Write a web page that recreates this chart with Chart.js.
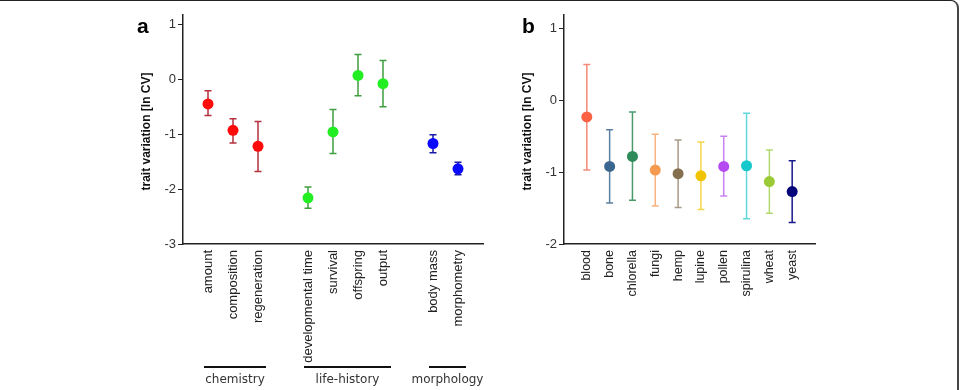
<!DOCTYPE html>
<html>
<head>
<meta charset="utf-8">
<script src="https://cdn.jsdelivr.net/npm/chart.js@4/dist/chart.umd.min.js"></script>
<style>
  html, body { margin:0; padding:0; background:#fff; width:961px; height:390px; overflow:hidden; }
  #frame { position:absolute; left:-10px; top:0; width:969px; height:430px; box-sizing:border-box;
           border-top:1px solid #222; border-right:2px solid #444; border-top-right-radius:8px; }
  #wa { position:absolute; left:0; top:0; width:510px; height:390px; }
  #wb { position:absolute; left:510px; top:0; width:451px; height:390px; }
</style>
</head>
<body>
<div id="frame"></div>
<div id="wa"><canvas id="ca"></canvas></div>
<div id="wb"><canvas id="cb"></canvas></div>
<script>
// ---------- Panel a data ----------
const chemCats  = ['amount', 'composition', 'regeneration'];
const chemMean  = [-0.45, -0.93, -1.22];
const chemLow   = [-0.66, -1.16, -1.68];
const chemHigh  = [-0.21, -0.72, -0.77];

const lifeCats  = ['developmental time', 'survival', 'offspring', 'output'];
const lifeMean  = [-2.16, -0.96, 0.07, -0.08];
const lifeLow   = [-2.35, -1.35, -0.30, -0.50];
const lifeHigh  = [-1.96, -0.55, 0.45, 0.34];

const morphCats = ['body mass', 'morphometry'];
const morphMean = [-1.17, -1.63];
const morphLow  = [-1.34, -1.74];
const morphHigh = [-1.01, -1.51];

const groupNames = ['chemistry', 'life-history', 'morphology'];
const yTicksA = [-3, -2, -1, 0, 1];

// ---------- Panel b data ----------
const foodCats = ['blood', 'bone', 'chlorella', 'fungi', 'hemp', 'lupine', 'pollen', 'spirulina', 'wheat', 'yeast'];
const foodMean = [-0.23, -0.92, -0.78, -0.97, -1.02, -1.05, -0.92, -0.91, -1.13, -1.27];
const foodLow  = [-0.97, -1.43, -1.39, -1.47, -1.49, -1.52, -1.33, -1.65, -1.57, -1.70];
const foodHigh = [0.50, -0.41, -0.16, -0.47, -0.55, -0.58, -0.50, -0.18, -0.69, -0.84];
const yTicksB = [-2, -1, 0, 1];

// ---------- styles ----------
const FONT = "'Liberation Sans', Arial, sans-serif";
const groupPointColors = ['#ff0a0a', '#22ee22', '#0a0aff'];
const groupBarColors   = ['#b5303c', '#3f9f3f', '#1a1aa8'];
const foodPointColors = ['#fb6244', '#3a6790', '#2e8a58', '#f59a4e', '#84704f', '#f0c400', '#b44af0', '#14c8cc', '#9acb36', '#06067a'];
const foodBarColors   = ['#f58a78', '#5a7fa2', '#4a9a6c', '#f7b27e', '#a89a86', '#f4d54a', '#c882f4', '#60d8dc', '#b2d870', '#1a1a8a'];

// ---------- build panel a structure ----------
const groupsCats  = [chemCats, lifeCats, morphCats];
const groupsMean  = [chemMean, lifeMean, morphMean];
const groupsLow   = [chemLow, lifeLow, morphLow];
const groupsHigh  = [chemHigh, lifeHigh, morphHigh];

const labelsA = [''];
const groupRanges = [];
groupsCats.forEach((cats, g) => {
  if (g > 0) labelsA.push('');
  const start = labelsA.length;
  cats.forEach(c => labelsA.push(c));
  groupRanges.push([start, labelsA.length - 1]);
});
labelsA.push('');

const datasetsA = groupsCats.map((cats, g) => {
  const data = labelsA.map(() => null);
  const low = labelsA.map(() => null);
  const high = labelsA.map(() => null);
  cats.forEach((c, i) => {
    const idx = groupRanges[g][0] + i;
    data[idx] = groupsMean[g][i];
    low[idx] = groupsLow[g][i];
    high[idx] = groupsHigh[g][i];
  });
  return {
    data, errLow: low, errHigh: high, errColor: groupBarColors[g],
    showLine: false, pointRadius: 5.5, pointHoverRadius: 5.5,
    pointBackgroundColor: groupPointColors[g], pointBorderColor: groupPointColors[g], pointBorderWidth: 0
  };
});

const labelsB = ['', ...foodCats, ''];
const datasetsB = [{
  data: [null, ...foodMean, null],
  errLow: [null, ...foodLow, null],
  errHigh: [null, ...foodHigh, null],
  errColor: [null, ...foodBarColors, null],
  showLine: false, pointRadius: 5.5, pointHoverRadius: 5.5,
  pointBackgroundColor: [null, ...foodPointColors, null],
  pointBorderColor: [null, ...foodPointColors, null], pointBorderWidth: 0
}];

// ---------- plugins ----------
const errorBars = {
  id: 'errorBars',
  beforeDatasetsDraw(chart) {
    const ctx = chart.ctx, ys = chart.scales.y;
    chart.data.datasets.forEach((ds, di) => {
      const meta = chart.getDatasetMeta(di);
      meta.data.forEach((pt, i) => {
        if (ds.data[i] == null) return;
        const col = Array.isArray(ds.errColor) ? ds.errColor[i] : ds.errColor;
        const x = pt.x;
        const y1 = ys.getPixelForValue(ds.errLow[i]);
        const y2 = ys.getPixelForValue(ds.errHigh[i]);
        ctx.save();
        ctx.strokeStyle = col;
        ctx.lineWidth = 1.5;
        ctx.beginPath();
        ctx.moveTo(x, y1); ctx.lineTo(x, y2);
        ctx.moveTo(x - 3.5, y1); ctx.lineTo(x + 3.5, y1);
        ctx.moveTo(x - 3.5, y2); ctx.lineTo(x + 3.5, y2);
        ctx.stroke();
        ctx.restore();
      });
    });
  }
};

const annotations = {
  id: 'annotations',
  afterDraw(chart, args, opts) {
    const ctx = chart.ctx, ca = chart.chartArea;
    ctx.save();
    // y title
    ctx.translate(ca.left - 36, (ca.top + ca.bottom) / 2 + 2);
    ctx.rotate(-Math.PI / 2);
    ctx.font = "bold 12px " + FONT;
    ctx.fillStyle = '#111';
    ctx.textAlign = 'center';
    ctx.textBaseline = 'middle';
    ctx.fillText('trait variation [ln CV]', 0, 0);
    ctx.restore();
    // panel letter
    ctx.save();
    ctx.font = "bold 21px " + FONT;
    ctx.fillStyle = '#000';
    ctx.textAlign = 'left';
    ctx.textBaseline = 'alphabetic';
    ctx.fillText(opts.letter, ca.left - opts.letterDx, 33);
    ctx.restore();
    // group underlines
    if (opts.groups) {
      const xs = chart.scales.x;
      ctx.save();
      opts.groups.forEach((r, g) => {
        const x1 = xs.getPixelForValue(r[0]) - 4;
        const x2 = xs.getPixelForValue(r[1]) + 8;
        ctx.strokeStyle = '#111';
        ctx.lineWidth = 2;
        ctx.beginPath();
        ctx.moveTo(x1, 367); ctx.lineTo(x2, 367);
        ctx.stroke();
        ctx.font = "12px 'DejaVu Sans', sans-serif";
        ctx.fillStyle = '#333';
        ctx.textAlign = 'center';
        ctx.textBaseline = 'middle';
        ctx.fillText(opts.groupNames[g], (x1 + x2) / 2, 380);
      });
      ctx.restore();
    }
  }
};

function makeOptions(yMin, yMax, yTicks, yWidth, padRight, labelFont, plug) {
  return {
    responsive: true,
    maintainAspectRatio: false,
    animation: false,
    layout: { padding: { left: 0, right: padRight, top: 15, bottom: 0 } },
    plugins: { legend: { display: false }, tooltip: { enabled: false }, annotations: plug },
    scales: {
      x: {
        type: 'category', offset: false,
        grid: { display: false, drawTicks: false },
        border: { display: true, color: '#222', width: 1.5 },
        ticks: { autoSkip: false, minRotation: 90, maxRotation: 90, padding: 6,
                 color: '#222', font: { family: FONT, size: labelFont } },
        afterFit: s => { s.height = 146; }
      },
      y: {
        min: yMin, max: yMax,
        afterBuildTicks: s => { s.ticks = yTicks.map(v => ({ value: v })); },
        grid: { display: true, drawOnChartArea: false, drawTicks: true, tickLength: 5, color: '#222', lineWidth: 1 },
        border: { display: true, color: '#222', width: 1.5 },
        ticks: { color: '#333', padding: 2, font: { family: FONT, size: 13 } },
        afterFit: s => { s.width = yWidth; }
      }
    }
  };
}

new Chart(document.getElementById('ca'), {
  type: 'line',
  data: { labels: labelsA, datasets: datasetsA },
  options: makeOptions(-3, 1.17, yTicksA, 183, 27, 13,
    { letter: 'a', letterDx: 46, groups: groupRanges, groupNames: groupNames }),
  plugins: [errorBars, annotations]
});

new Chart(document.getElementById('cb'), {
  type: 'line',
  data: { labels: labelsB, datasets: datasetsB },
  options: makeOptions(-2, 1.19, yTicksB, 54, 146, 12.5,
    { letter: 'b', letterDx: 42 }),
  plugins: [errorBars, annotations]
});
</script>
</body>
</html>
